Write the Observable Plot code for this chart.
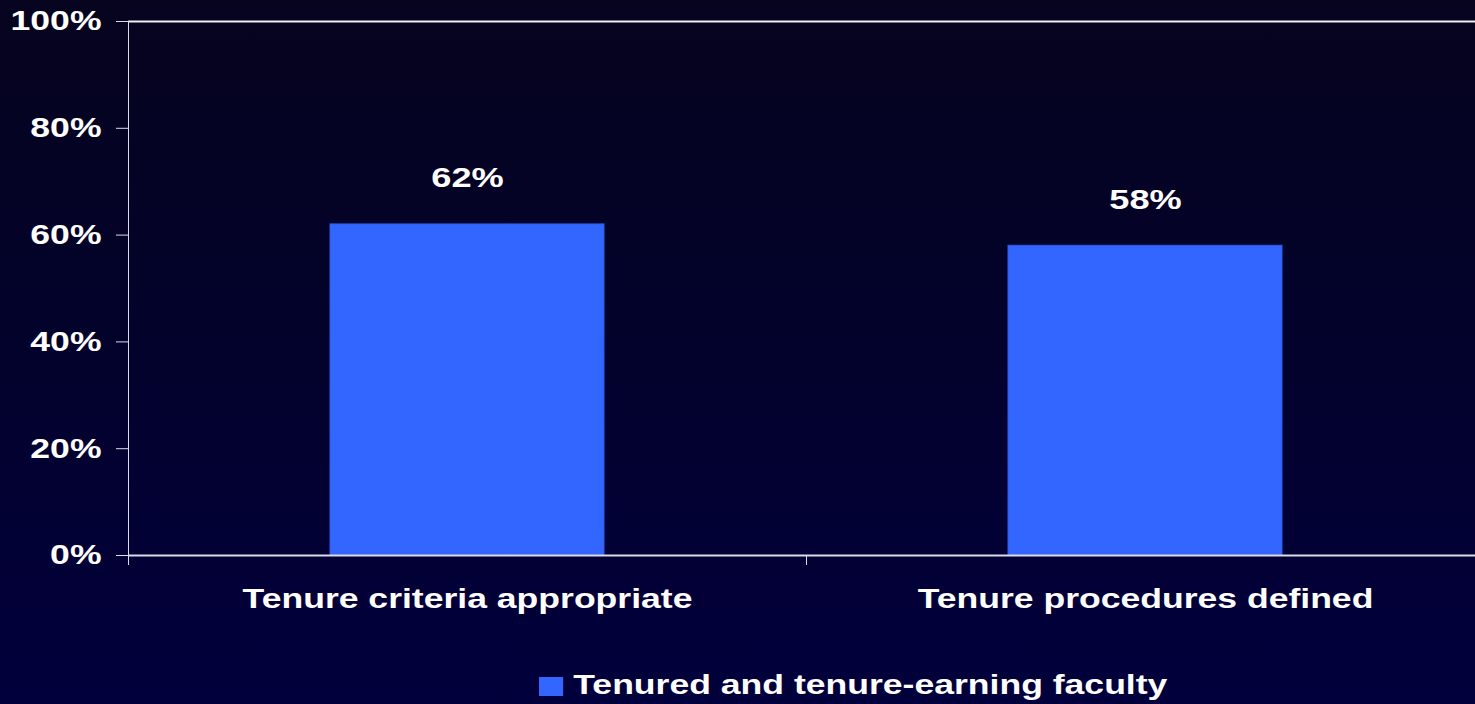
<!DOCTYPE html>
<html>
<head>
<meta charset="utf-8">
<script src="https://cdn.jsdelivr.net/npm/d3@7"></script>
<script src="https://cdn.jsdelivr.net/npm/@observablehq/plot@0.6"></script>
<style>
  html, body { margin: 0; padding: 0; width: 1475px; height: 704px; overflow: hidden;
    background: linear-gradient(to bottom, #06041e 0%, #03022c 50%, #02003c 100%); }
  #chart { position: absolute; left: 0; top: 0; width: 1484px; }
  #chart svg { max-width: none !important; }
  #legend { position: absolute; left: 539px; top: 671px; display: flex; align-items: center;
    transform: scaleX(1.27); transform-origin: 0 0; font-family: "Liberation Sans", Arial, sans-serif;
    font-weight: bold; font-size: 28px; line-height: 28px; color: #ffffff; white-space: nowrap; }
  #legend .sw { width: 19px; height: 19px; background: #3366ff; margin-right: 8px; margin-top: 3px; }
</style>
</head>
<body>
<div id="chart"></div>
<div id="legend"><span class="sw"></span><span>Tenured and tenure-earning faculty</span></div>
<script>
const categories = ["Tenure criteria appropriate", "Tenure procedures defined"];
const values = [0.62, 0.58];
const seriesName = "Tenured and tenure-earning faculty";
const yTicks = [0, 0.2, 0.4, 0.6, 0.8, 1];

const data = categories.map((c, i) => ({category: c, value: values[i]}));
const lineColor = "#dcdce8";
const S = 1.27;

const chart = Plot.plot({
  width: 1484,
  height: 650,
  marginTop: 21,
  marginBottom: 95,
  marginLeft: 128,
  marginRight: 0,
  style: {background: "transparent", color: "#ffffff", fontFamily: "'Liberation Sans', Arial, sans-serif", fontWeight: "bold", overflow: "visible", maxWidth: "none"},
  x: {domain: categories, padding: 0, label: null},
  y: {domain: [0, 1], label: null},
  marks: [
    Plot.barY(data, {x: "category", y: "value", fill: "#3366ff", stroke: "#2f5ae6", strokeWidth: 1, insetLeft: 202, insetRight: 202}),
    Plot.ruleY([1], {stroke: "#f0f0f8", strokeWidth: 2, strokeOpacity: 1}),
    Plot.ruleY([0], {stroke: lineColor, strokeWidth: 2, strokeOpacity: 1}),
    Plot.ruleX([categories[0]], {x: d => d, dx: -339, y1: 1, y2: 0, insetBottom: -10, stroke: lineColor, strokeWidth: 1, strokeOpacity: 1}),
    Plot.ruleX([categories[1]], {x: d => d, dx: -339, y1: 0, y2: 0, insetBottom: -10, stroke: lineColor, strokeWidth: 1, strokeOpacity: 1}),
    Plot.axisY({ticks: yTicks, tickFormat: d3.format(".0%"), tickSize: 12, tickPadding: 15, fontSize: 28, stroke: lineColor, strokeOpacity: 1, fill: "#ffffff", label: null}),
    Plot.axisX({tickSize: 0, tickPadding: 33, fontSize: 28, fill: "#ffffff", label: null}),
    Plot.text(data, {x: "category", y: "value", text: d => d3.format(".0%")(d.value), dy: -37, lineAnchor: "bottom", fontSize: 28.5, fontWeight: "bold", fill: "#ffffff"})
  ]
});

chart.style.maxWidth = "none";
chart.querySelectorAll("text").forEach(t => {
  const tr = t.getAttribute("transform");
  if (tr) {
    t.setAttribute("transform", tr + ` scale(${S},1)`);
  } else {
    const x = +(t.getAttribute("x") || 0), y = +(t.getAttribute("y") || 0);
    t.removeAttribute("x"); t.removeAttribute("y");
    t.setAttribute("transform", `translate(${x},${y}) scale(${S},1)`);
  }
});

document.getElementById("chart").appendChild(chart);
</script>
</body>
</html>
